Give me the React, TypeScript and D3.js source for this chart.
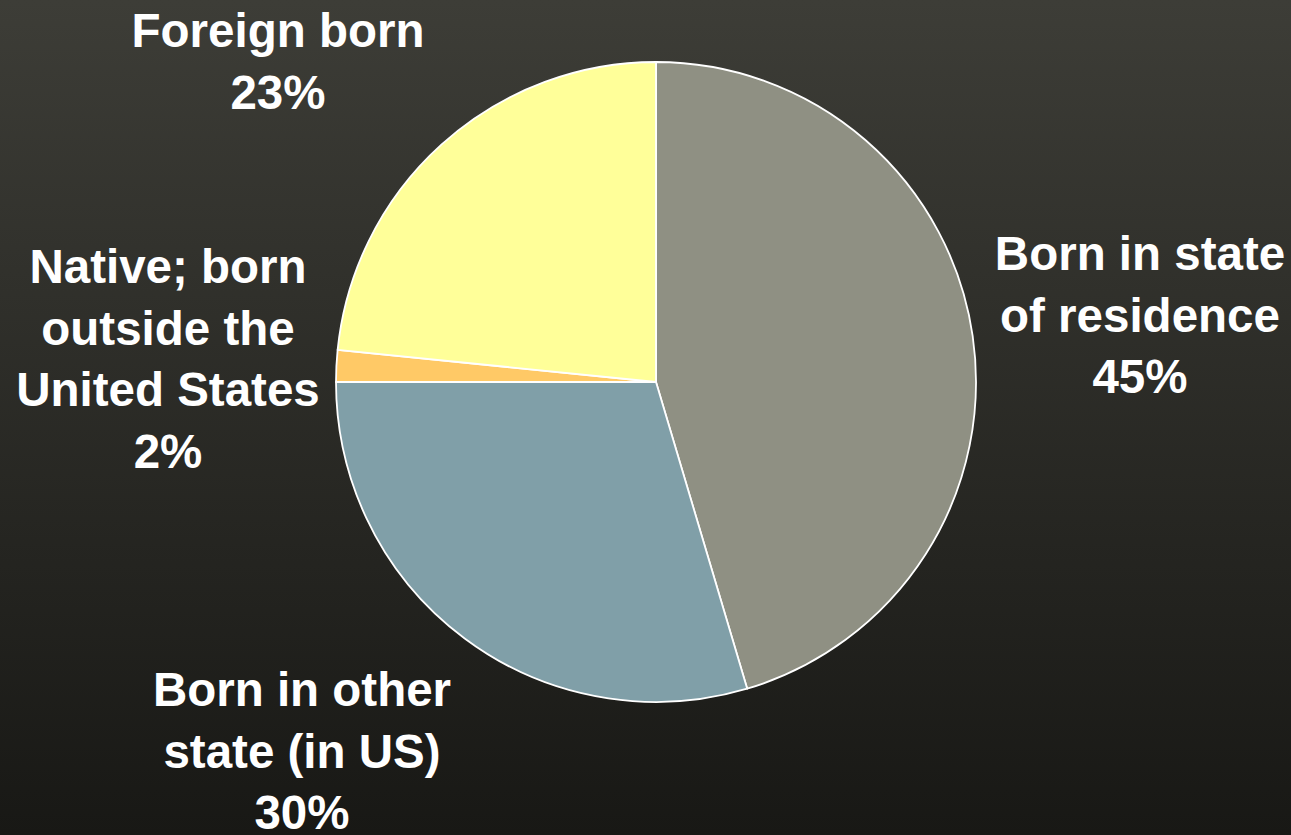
import React from "react";
import * as d3 from "d3";

const categories = [
  "Born in state of residence",
  "Born in other state (in US)",
  "Native; born outside the United States",
  "Foreign born",
];
const values = [45.4, 29.6, 1.6, 23.4];
const valueLabels = ["45%", "30%", "2%", "23%"];
const labelLines = [
  ["Born in state", "of residence"],
  ["Born in other", "state (in US)"],
  ["Native; born", "outside the", "United States"],
  ["Foreign born"],
];
const colors = ["#8f9083", "#809fa8", "#ffc966", "#ffff99"];

const W = 1291;
const H = 835;
const cx = 656;
const cy = 382;
const R = 320;

// label anchor: center x and first baseline y
const labelPos: [number, number][] = [
  [1140, 270],
  [302, 706],
  [168, 283],
  [278, 47],
];
const lineH = 61.5;

export default function App() {
  const pie = d3
    .pie<number>()
    .sort(null)
    .value((d) => d)
    .startAngle(0)
    .endAngle(2 * Math.PI);
  const arcs = pie(values);
  const arcGen = d3.arc<d3.PieArcDatum<number>>().innerRadius(0).outerRadius(R);

  return (
    <svg
      width={W}
      height={H}
      style={{ position: "fixed", left: 0, top: 0, display: "block" }}
    >
      <defs>
        <linearGradient id="bg" x1="0" y1="0" x2="0" y2="1">
          <stop offset="0%" stopColor="#3d3d37" />
          <stop offset="100%" stopColor="#181815" />
        </linearGradient>
      </defs>
      <rect x={0} y={0} width={W} height={H} fill="url(#bg)" />
      <g transform={`translate(${cx},${cy})`}>
        {arcs.map((a, i) => (
          <path
            key={categories[i]}
            d={arcGen(a) || ""}
            fill={colors[i]}
            stroke="#ffffff"
            strokeWidth={1.8}
            strokeLinejoin="round"
          />
        ))}
      </g>
      {labelLines.map((lines, i) => {
        const [x, y] = labelPos[i];
        const all = [...lines, valueLabels[i]];
        return (
          <text
            key={categories[i]}
            x={x}
            y={y}
            textAnchor="middle"
            fill="#ffffff"
            fontFamily="'Liberation Sans', Arial, sans-serif"
            fontWeight="bold"
            fontSize={47.5}
          >
            {all.map((t, j) => (
              <tspan key={j} x={x} y={y + j * lineH}>
                {t}
              </tspan>
            ))}
          </text>
        );
      })}
    </svg>
  );
}
